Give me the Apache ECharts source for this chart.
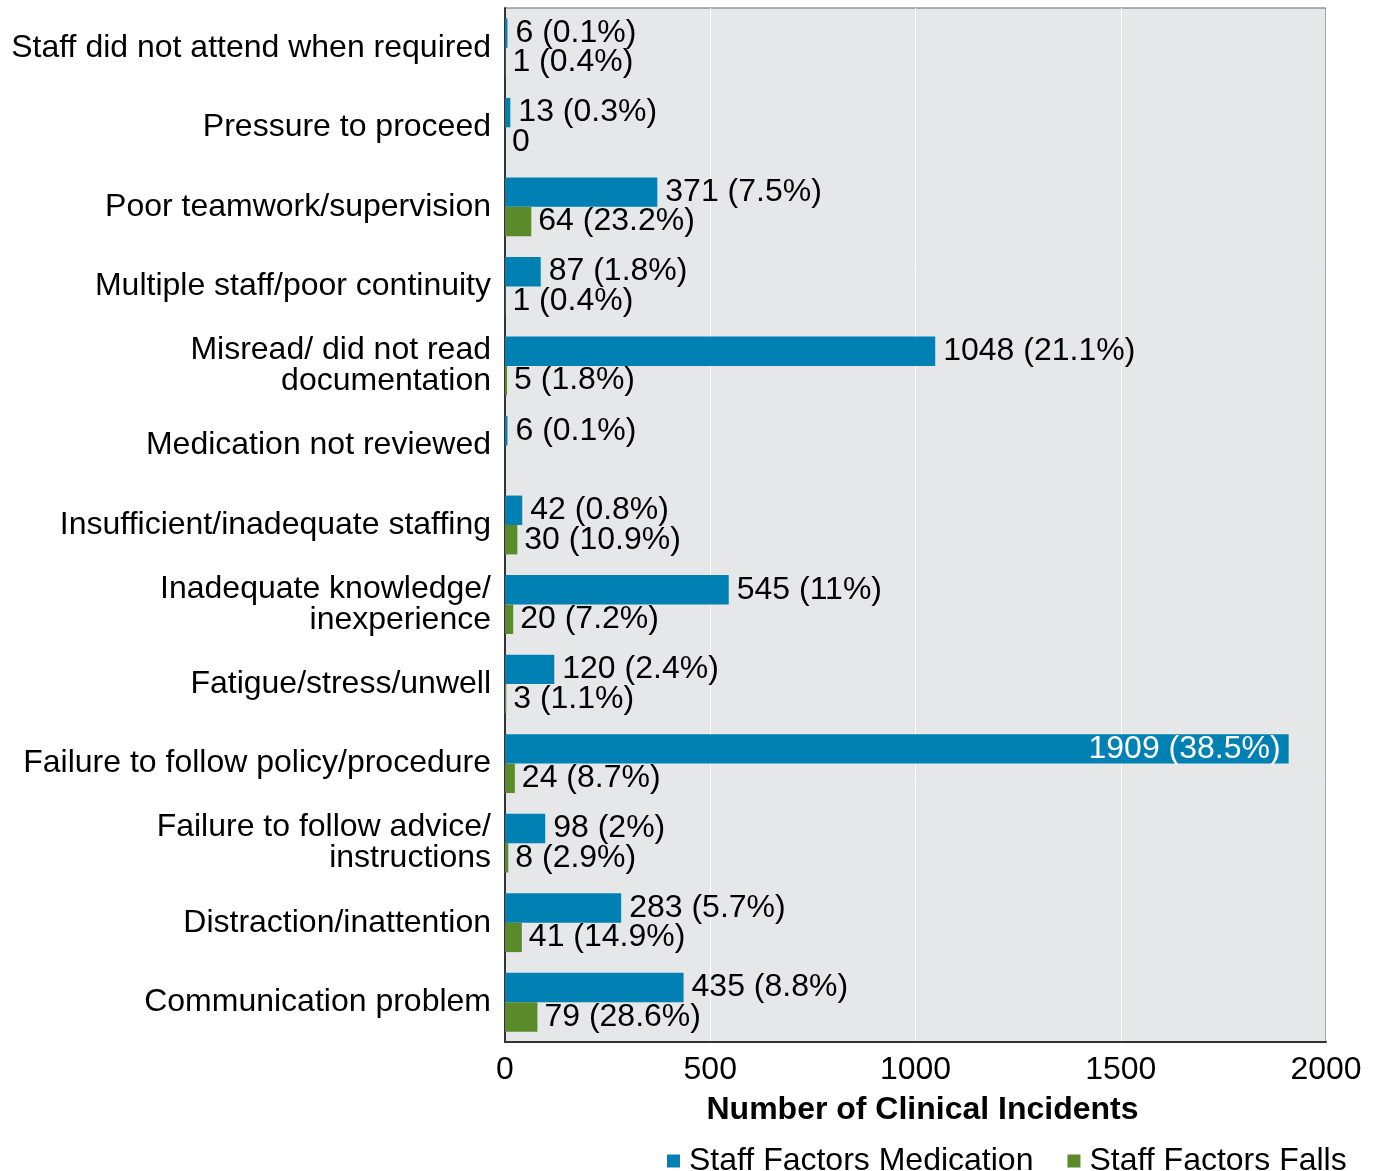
<!DOCTYPE html>
<html>
<head>
<meta charset="utf-8">
<script src="https://cdn.jsdelivr.net/npm/echarts@6/dist/echarts.min.js"></script>
<style>html,body{margin:0;padding:0;background:#fff}#c{width:1375px;height:1171px}</style>
</head>
<body>
<div id="c"></div>
<script>
const categories = [
  "Communication problem",
  "Distraction/inattention",
  "Failure to follow advice/\ninstructions",
  "Failure to follow policy/procedure",
  "Fatigue/stress/unwell",
  "Inadequate knowledge/\ninexperience",
  "Insufficient/inadequate staffing",
  "Medication not reviewed",
  "Misread/ did not read\ndocumentation",
  "Multiple staff/poor continuity",
  "Poor teamwork/supervision",
  "Pressure to proceed",
  "Staff did not attend when required"
];
const medication = [435, 283, 98, 1909, 120, 545, 42, 6, 1048, 87, 371, 13, 6];
const medicationPct = [8.8, 5.7, 2, 38.5, 2.4, 11, 0.8, 0.1, 21.1, 1.8, 7.5, 0.3, 0.1];
const falls = [79, 41, 8, 24, 3, 20, 30, null, 5, 1, 64, 0, 1];
const fallsPct = [28.6, 14.9, 2.9, 8.7, 1.1, 7.2, 10.9, null, 1.8, 0.4, 23.2, 0, 0.4];
const xTicks = [0, 500, 1000, 1500, 2000];

const FONT = "Liberation Sans, Arial, sans-serif";
const FS = 32;
function fmt(v, p) {
  if (v === null || v === undefined) return '';
  if (v === 0) return '0';
  return v + ' (' + p + '%)';
}
const medData = medication.map(v => v >= 1500
  ? { value: v, label: { position: 'insideRight', color: '#fff', distance: 8 } }
  : v);
const chart = echarts.init(document.getElementById('c'));
chart.setOption({
  animation: false,
  textStyle: { fontFamily: FONT },
  grid: { left: 505, right: 49, top: 8, bottom: 129, show: true, backgroundColor: '#e6e7e9', borderColor: '#666', borderWidth: 1 },
  legend: {
    data: ['Staff Factors Medication', 'Staff Factors Falls'],
    left: 662, top: 1140, itemWidth: 13, itemHeight: 13, itemGap: 34, icon: 'rect',
    textStyle: { fontSize: FS, color: '#000', fontFamily: FONT, padding: [0, 0, 0, 4] }
  },
  xAxis: {
    type: 'value', min: 0, max: 2000, interval: 500,
    name: 'Number of Clinical Incidents', nameLocation: 'middle', nameGap: 52,
    nameTextStyle: { fontSize: FS, fontWeight: 'bold', color: '#000', fontFamily: FONT, padding: [0, 0, 0, 14] },
    axisLine: { show: true, lineStyle: { color: '#333', width: 2 } },
    axisTick: { show: false },
    axisLabel: { fontSize: FS, color: '#000', margin: 12, fontFamily: FONT,
      formatter: v => xTicks.indexOf(v) >= 0 ? String(v) : '' },
    splitLine: { show: true, lineStyle: { color: '#ffffff', width: 1 } }
  },
  yAxis: {
    type: 'category', data: categories,
    axisLine: { show: true, lineStyle: { color: '#333', width: 2 } },
    axisTick: { show: false },
    axisLabel: { fontSize: FS, color: '#000', margin: 14, lineHeight: 31, fontFamily: FONT, align: 'right' },
    splitLine: { show: false }
  },
  series: [
    {
      name: 'Staff Factors Medication', type: 'bar', data: medData,
      barGap: '0%', barCategoryGap: '26%',
      itemStyle: { color: '#0080b3' },
      label: {
        show: true, position: 'right', distance: 8, fontSize: FS, color: '#000', fontFamily: FONT,
        formatter: p => fmt(medication[p.dataIndex], medicationPct[p.dataIndex])
      }
    },
    {
      name: 'Staff Factors Falls', type: 'bar', data: falls,
      barGap: '0%', barCategoryGap: '26%',
      itemStyle: { color: '#5b8a2a' },
      label: {
        show: true, position: 'right', distance: 7, fontSize: FS, color: '#000', fontFamily: FONT,
        formatter: p => fmt(falls[p.dataIndex], fallsPct[p.dataIndex])
      }
    }
  ]
});
</script>
</body>
</html>
